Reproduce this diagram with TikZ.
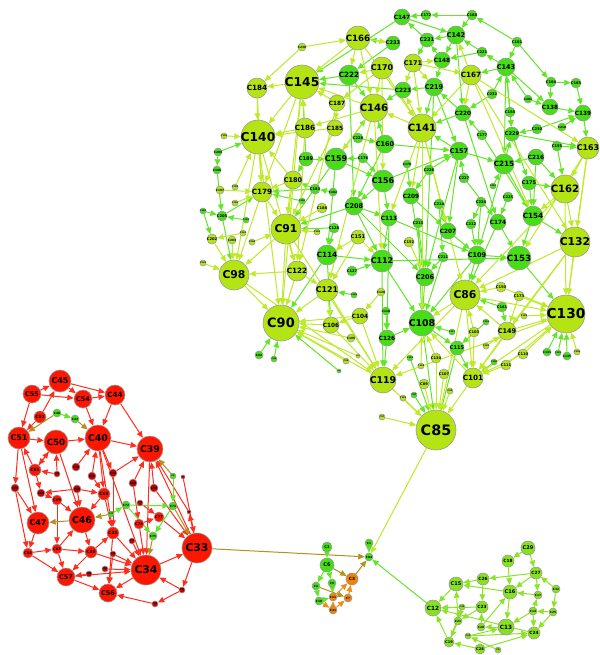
\documentclass[tikz,border=0pt]{standalone}
\usepackage{fontspec}
\setmainfont{DejaVu Sans}
\usetikzlibrary{arrows.meta}
\definecolor{lm}{RGB}{180,228,20}
\definecolor{gn}{RGB}{70,222,20}
\definecolor{rd}{RGB}{255,22,0}
\definecolor{drd}{RGB}{195,0,0}
\definecolor{org}{RGB}{240,130,10}
\definecolor{kg}{RGB}{135,226,30}
\definecolor{elm}{RGB}{190,234,40}
\definecolor{egn}{RGB}{100,230,40}
\definecolor{erd}{RGB}{255,45,30}
\definecolor{eol}{RGB}{180,145,25}
\definecolor{eor}{RGB}{240,140,20}
\definecolor{ekg}{RGB}{140,228,40}
\pgfdeclarelayer{bgw}\pgfdeclarelayer{bg}\pgfsetlayers{bgw,bg,main}
\tikzset{
 nd/.style={circle,draw=black!40,line width=0.3pt,inner sep=0pt},
 L/.style={nd,fill=lm}, G/.style={nd,fill=gn}, R/.style={nd,fill=rd},
 D/.style={nd,fill=drd}, O/.style={nd,fill=org}, K/.style={nd,fill=kg},
 lbl/.style={inner sep=0pt,font=\bfseries,text=black},
 ed/.style={line width=0.5pt,-{Triangle[length=3.2pt,width=2.8pt]}},
 eL/.style={ed,draw=elm}, eG/.style={ed,draw=egn}, eR/.style={ed,draw=erd},
 eO/.style={ed,draw=eol}, eOr/.style={ed,draw=eor}, eK/.style={ed,draw=ekg}
}
\newcommand\fsz[1]{\pgfmathsetmacro\myfs{0.36*#1}\fontsize{\myfs pt}{\myfs pt}\selectfont}
\newcommand\N[5]{\node[#1,minimum size=#4pt] (#2) at (#3) {};\node[lbl] (#2l) at (#2) {\fsz{#4}#5};}
\begin{document}
\begin{tikzpicture}[x=0.5pt,y=-0.5pt]
\begin{pgfonlayer}{bgw}
\fill[white] (0,0) rectangle (600,655);
\end{pgfonlayer}
\useasboundingbox (0,0) rectangle (600,655);
% main cluster
\N{G}{c147}{402,17}{8}{C147}
\N{G}{c172}{426,15}{5}{C172}
\N{G}{c168}{472,15}{5}{C168}
\N{G}{c142}{456,35}{9}{C142}
\N{G}{c231}{427,40}{7}{C231}
\N{G}{c181}{517,42}{5}{C181}
\N{G}{c221}{482,52}{5}{C221}
\N{G}{c148}{442,60}{8}{C148}
\N{G}{c143}{506,67}{9}{C143}
\N{L}{c171}{413,63}{9}{C171}
\N{L}{c167}{471,75}{10}{C167}
\N{G}{c164}{551,82}{5}{C164}
\N{G}{c165}{576,83}{5}{C165}
\N{G}{c223}{403,90}{8}{C223}
\N{G}{c219}{434,87}{9}{C219}
\N{G}{c232}{492,94}{5}{C232}
\N{G}{c201}{528,99}{4}{C201}
\N{G}{c138}{550,107}{8}{C138}
\N{G}{c139}{583,113}{8}{C139}
\N{G}{c158}{510,112}{5}{C158}
\N{G}{c220}{463,113}{8}{C220}
\N{L}{c141}{422,128}{14}{C141}
\N{G}{c177}{482,135}{5}{C177}
\N{G}{c230}{537,129}{5}{C230}
\N{G}{c229}{512,134}{7}{C229}
\N{G}{c218}{562,127}{4}{C218}
\N{G}{c155}{557,146}{5}{C155}
\N{L}{c163}{588,148}{11}{C163}
\N{L}{c166}{358,38}{12}{C166}
\N{G}{c233}{393,43}{7}{C233}
\N{L}{c238}{302,47}{4}{C238}
\N{L}{c170}{382,68}{11}{C170}
\N{G}{c222}{349,75}{10}{C222}
\N{L}{c145}{302,82}{17}{C145}
\N{L}{c184}{257,88}{10}{C184}
\N{L}{c187}{337,103}{8}{C187}
\N{L}{c146}{374,108}{14}{C146}
\N{L}{c186}{305,128}{10}{C186}
\N{L}{c185}{335,128}{8}{C185}
\N{L}{c140}{258,137}{17}{C140}
\N{L}{c195}{224,136}{3}{C195}
\N{G}{c228}{358,138}{5}{C228}
\N{G}{c160}{385,144}{9}{C160}
\N{G}{c200}{218,152}{4}{C200}
\N{G}{c189}{306,159}{7}{C189}
\N{G}{c159}{336,159}{11}{C159}
\N{G}{c176}{363,158}{5}{C176}
\N{G}{c196}{217,170}{4}{C196}
\N{L}{c180}{293,180}{9}{C180}
\N{L}{c179}{262,192}{10}{C179}
\N{L}{c197}{220,190}{4}{C197}
\N{L}{c198}{235,187}{3}{C198}
\N{L}{c199}{235,203}{3}{C199}
\N{G}{c183}{315,189}{5}{C183}
\N{G}{c182}{333,192}{4}{C182}
\N{G}{c156}{383,181}{11}{C156}
\N{G}{c190}{302,201}{3}{C190}
\N{G}{c208}{354,206}{9}{C208}
\N{L}{c188}{322,208}{5}{C188}
\N{G}{c113}{389,218}{8}{C113}
\N{G}{c194}{203,211}{3}{C194}
\N{G}{c205}{222,216}{5}{C205}
\N{G}{c193}{246,220}{3}{C193}
\N{L}{c91}{286,229}{15}{C91}
\N{G}{c128}{334,228}{5}{C128}
\N{L}{c151}{358,237}{7}{C151}
\N{L}{c192}{317,232}{3}{C192}
\N{L}{c202}{212,239}{5}{C202}
\N{L}{c203}{232,240}{4}{C203}
\N{L}{c204}{252,242}{3}{C204}
\N{L}{c191}{243,233}{3}{C191}
\N{L}{c239}{203,263}{3}{C239}
\N{G}{c114}{327,255}{10}{C114}
\N{G}{c112}{382,261}{11}{C112}
\N{L}{c98}{234,275}{15}{C98}
\N{L}{c122}{297,271}{10}{C122}
\N{G}{c127}{352,271}{5}{C127}
\N{L}{c121}{327,290}{11}{C121}
\N{G}{c157}{459,151}{9}{C157}
\N{G}{c216}{536,157}{8}{C216}
\N{G}{c215}{504,164}{10}{C215}
\N{G}{c178}{407,164}{4}{C178}
\N{G}{c226}{429,170}{5}{C226}
\N{G}{c227}{464,178}{5}{C227}
\N{G}{c175}{529,183}{7}{C175}
\N{L}{c162}{565,189}{14}{C162}
\N{G}{c209}{411,196}{8}{C209}
\N{G}{c210}{493,186}{3}{C210}
\N{G}{c225}{508,197}{5}{C225}
\N{G}{c224}{481,202}{5}{C224}
\N{G}{c214}{439,204}{5}{C214}
\N{G}{c154}{533,216}{10}{C154}
\N{G}{c174}{498,222}{8}{C174}
\N{G}{c212}{471,224}{5}{C212}
\N{G}{c213}{418,223}{5}{C213}
\N{G}{c207}{448,231}{8}{C207}
\N{L}{c132}{575,242}{15}{C132}
\N{L}{c152}{409,242}{5}{C152}
\N{G}{c109}{477,255}{9}{C109}
\N{G}{c153}{519,258}{12}{C153}
\N{G}{c211}{443,257}{5}{C211}
\N{G}{c206}{425,277}{9}{C206}
\N{L}{c86}{465,295}{15}{C86}
\N{L}{c150}{501,287}{5}{C150}
\N{L}{c173}{519,296}{5}{C173}
\N{G}{c161}{502,307}{5}{C161}
\N{L}{c130}{566,314}{19}{C130}
\N{G}{c108}{422,323}{13}{C108}
\N{L}{c149}{507,331}{9}{C149}
\N{L}{c103}{474,332}{5}{C103}
\N{L}{c169}{524,316}{3}{C169}
\N{G}{c116}{486,322}{3}{C116}
\N{G}{c117}{452,332}{3}{C117}
\N{G}{c115}{457,348}{7}{C115}
\N{L}{c134}{436,358}{5}{C134}
\N{L}{c110}{523,354}{5}{C110}
\N{L}{c102}{486,346}{3}{C102}
\N{G}{c131}{547,352}{4}{C131}
\N{G}{c133}{558,353}{3}{C133}
\N{G}{c135}{567,356}{4}{C135}
\N{L}{c136}{577,352}{3}{C136}
\N{L}{c101}{473,378}{10}{C101}
\N{L}{c111}{506,365}{5}{C111}
\N{G}{c100}{494,362}{3}{C100}
\N{L}{c107}{444,374}{5}{C107}
\N{L}{c89}{424,384}{5}{C89}
\N{L}{c99}{450,391}{3}{C99}
\N{G}{c123}{410,358}{3}{C123}
\N{L}{c124}{421,366}{3}{C124}
\N{L}{c125}{403,398}{3}{C125}
\N{G}{c87}{414,395}{3}{C87}
\N{L}{c85}{436,430}{20}{C85}
\N{L}{c90}{281,323}{18}{C90}
\N{L}{c104}{360,316}{8}{C104}
\N{L}{c106}{331,325}{8}{C106}
\N{G}{c129}{354,295}{3}{C129}
\N{L}{c120}{381,292}{4}{C120}
\N{G}{c118}{386,311}{4}{C118}
\N{G}{c126}{387,338}{8}{C126}
\N{L}{c105}{351,338}{4}{C105}
\N{G}{c92}{259,355}{4}{C92}
\N{G}{c93}{274,359}{3}{C93}
\N{L}{c94}{346,361}{3}{C94}
\N{L}{c95}{358,356}{2}{C95}
\N{G}{c96}{339,371}{2}{C96}
\N{L}{c119}{383,380}{13}{C119}
\N{L}{c97}{382,417}{3}{C97}
% red cluster
\N{R}{c45}{60,381}{11}{C45}
\N{R}{c55}{32,394}{9}{C55}
\N{R}{c54}{83,399}{9}{C54}
\N{R}{c44}{115,395}{10}{C44}
\N{R}{c52}{40,417}{6}{C52}
\N{G}{c48}{57,413}{4}{C48}
\N{G}{c43}{75,419}{4}{C43}
\N{R}{c51}{19,438}{11}{C51}
\N{R}{c50}{56,442}{12}{C50}
\N{R}{c40}{98,438}{13}{C40}
\N{R}{c39}{150,449}{13}{C39}
\N{R}{c61}{35,470}{6}{C61}
\N{D}{c53}{57,474}{3}{C53}
\N{D}{c58}{76,467}{4}{C58}
\N{D}{c59}{92,476}{4}{C59}
\N{D}{c41}{113,473}{4}{C41}
\N{D}{c66}{15,488}{4}{C66}
\N{D}{c65}{41,493}{4}{C65}
\N{D}{c68}{77,489}{4}{C68}
\N{R}{c62}{104,494}{6}{C62}
\N{D}{c69}{133,483}{4}{C69}
\N{D}{c70}{154,488}{4}{C70}
\N{G}{c5}{173,476}{3}{C5}
\N{D}{c71}{183,477}{2}{C71}
\N{R}{c49}{57,500}{5}{C49}
\N{G}{c72}{126,505}{4}{C72}
\N{G}{c37}{111,514}{3}{C37}
\N{G}{c73}{173,506}{4}{C73}
\N{D}{c74}{140,503}{3}{C74}
\N{R}{c77}{159,517}{5}{C77}
\N{R}{c78}{139,524}{5}{C78}
\N{R}{c47}{38,523}{11}{C47}
\N{R}{c46}{82,520}{13}{C46}
\N{R}{c35}{113,533}{6}{C35}
\N{G}{c75}{153,536}{4}{C75}
\N{D}{c76}{132,541}{3}{C76}
\N{D}{c79}{189,512}{2}{C79}
\N{R}{c64}{28,553}{5}{C64}
\N{R}{c63}{57,549}{5}{C63}
\N{R}{c36}{91,552}{6}{C36}
\N{D}{c38}{113,554}{3}{C38}
\N{R}{c33}{197,548}{15}{C33}
\N{R}{c34}{146,570}{15}{C34}
\N{R}{c57}{66,577}{9}{C57}
\N{D}{c80}{89,574}{3}{C80}
\N{D}{c81}{105,569}{3}{C81}
\N{R}{c56}{108,593}{9}{C56}
\N{D}{c82}{182,590}{3}{C82}
\N{D}{c83}{155,604}{3}{C83}
% small cluster
\N{G}{c2}{327,547}{5}{C2}
\N{G}{c6}{327,565}{7}{C6}
\N{G}{c84}{369,557}{4}{C84}
\N{G}{c1}{369,543}{4}{C1}
\N{O}{c3}{352,579}{6}{C3}
\N{G}{c4}{316,586}{4}{C4}
\N{G}{c9}{332,583}{4}{C9}
\N{G}{c10}{319,601}{4}{C10}
\N{O}{c11}{333,597}{4}{C11}
\N{O}{c7}{348,598}{4}{C7}
\N{O}{c31}{333,610}{4}{C31}
% bottom right cluster
\N{K}{c29}{528,548}{7}{C29}
\N{K}{c18}{508,561}{6}{C18}
\N{K}{c27}{536,573}{6}{C27}
\N{K}{c26}{483,579}{6}{C26}
\N{K}{c15}{456,584}{7}{C15}
\N{K}{c32}{556,589}{4}{C32}
\N{K}{c16}{510,592}{7}{C16}
\N{K}{c17}{538,595}{4}{C17}
\N{K}{c12}{433,608}{8}{C12}
\N{K}{c23}{482,607}{6}{C23}
\N{K}{c30}{462,607}{3}{C30}
\N{K}{c14}{533,611}{4}{C14}
\N{K}{c25}{553,612}{4}{C25}
\N{K}{c21}{458,621}{4}{C21}
\N{K}{c20}{481,627}{4}{C20}
\N{K}{c13}{506,627}{8}{C13}
\N{K}{c24}{534,633}{6}{C24}
\N{K}{c22}{468,636}{3}{C22}
\N{K}{c19}{449,642}{5}{C19}
\N{K}{c28}{480,649}{5}{C28}
\N{K}{c8}{498,650}{3}{C8}
\begin{pgfonlayer}{bg}
\foreach \a/\b in {c147/c142,c172/c147,c168/c172,c168/c142,c142/c231,c231/c147,c181/c168,c181/c143,c221/c142,c221/c148,c148/c231,c148/c219,c143/c221,c143/c167,c143/c138,c164/c165,c165/c139,c164/c138,c181/c164,c223/c145,c223/c146,c219/c223,c219/c141,c232/c220,c232/c143,c201/c138,c201/c143,c138/c139,c139/c163,c158/c143,c158/c229,c220/c141,c220/c219,c177/c220,c177/c154,c230/c229,c230/c139,c229/c163,c218/c139,c155/c163,c155/c162,c233/c222,c233/c166,c222/c145,c222/c146,c228/c160,c160/c146,c160/c157,c200/c140,c200/c196,c189/c159,c189/c145,c159/c146,c159/c156,c176/c159,c196/c205,c183/c180,c183/c179,c182/c183,c156/c157,c156/c208,c190/c179,c208/c113,c208/c91,c113/c112,c113/c109,c194/c205,c205/c179,c193/c205,c128/c91,c128/c114,c114/c112,c114/c90,c112/c153,c112/c108,c127/c112,c157/c141,c157/c215,c216/c215,c216/c162,c215/c154,c215/c229,c178/c209,c226/c157,c227/c157,c227/c174,c175/c154,c175/c162,c209/c207,c209/c206,c210/c215,c225/c174,c224/c212,c214/c211,c154/c153,c154/c132,c174/c153,c212/c109,c213/c206,c207/c109,c109/c153,c109/c108,c211/c206,c206/c108,c161/c149,c161/c86,c108/c85,c108/c115,c116/c115,c117/c108,c115/c101,c131/c130,c133/c130,c135/c130,c100/c101,c123/c85,c87/c85,c129/c121,c118/c126,c126/c119,c126/c108,c92/c90,c93/c90,c96/c90,c143/c215,c219/c157,c220/c174,c222/c208,c229/c175,c157/c207,c159/c114,c156/c113,c208/c112,c147/c145,c231/c171,c142/c148,c224/c109,c214/c207,c213/c108,c226/c209,c189/c180,c176/c156,c205/c98,c194/c202,c174/c86,c153/c130,c109/c86,c115/c85,c211/c108,c157/c206,c215/c109,c216/c154,c143/c229,c142/c220,c219/c206,c208/c206,c112/c119,c113/c126,c114/c106,c159/c91,c160/c208}
  \draw[eG] (\a) -- (\b);
\foreach \a/\b in {c171/c141,c171/c148,c167/c141,c167/c163,c167/c142,c141/c146,c163/c162,c162/c132,c166/c145,c166/c233,c166/c146,c238/c166,c238/c184,c170/c146,c170/c222,c145/c140,c145/c184,c184/c140,c187/c145,c187/c185,c146/c145,c146/c186,c141/c108,c186/c145,c186/c140,c185/c140,c140/c179,c140/c98,c195/c140,c180/c91,c180/c140,c179/c91,c179/c98,c197/c179,c198/c140,c199/c179,c188/c91,c91/c90,c91/c98,c151/c114,c151/c112,c192/c91,c202/c98,c203/c98,c204/c91,c191/c202,c239/c98,c98/c90,c122/c90,c122/c98,c121/c90,c121/c106,c132/c130,c152/c206,c86/c108,c86/c130,c150/c86,c150/c130,c173/c149,c130/c101,c149/c130,c149/c101,c103/c86,c103/c101,c169/c130,c110/c130,c136/c130,c102/c149,c101/c85,c111/c130,c107/c85,c89/c85,c99/c85,c124/c108,c125/c85,c106/c90,c104/c106,c104/c90,c105/c90,c120/c104,c94/c90,c95/c90,c119/c85,c119/c90,c97/c85,c134/c108,c134/c85,c145/c91,c140/c90,c146/c112,c167/c132,c163/c130,c162/c130,c86/c85,c132/c86,c121/c119,c141/c207,c170/c156,c185/c91,c186/c122,c187/c122,c171/c219,c141/c113,c146/c159,c145/c179,c184/c179,c180/c179,c91/c122,c98/c119,c132/c149,c162/c154,c163/c132,c149/c86,c101/c108,c141/c223,c166/c222,c170/c187,c151/c121,c122/c121,c106/c119,c104/c119,c141/c209,c167/c220,c171/c223,c173/c130,c110/c101,c111/c101,c86/c101,c85/c84,c130/c119,c132/c101,c86/c119,c145/c90,c140/c122,c146/c121,c141/c86,c162/c86,c163/c153,c167/c154,c170/c141,c166/c141,c171/c167,c91/c119}
  \draw[eL] (\a) -- (\b);
\foreach \a/\b in {c45/c54,c45/c44,c55/c45,c55/c51,c54/c44,c54/c40,c52/c51,c52/c45,c51/c50,c50/c40,c40/c39,c44/c39,c51/c66,c61/c51,c61/c50,c50/c46,c40/c41,c41/c39,c40/c62,c58/c40,c59/c40,c53/c50,c53/c61,c61/c65,c66/c47,c66/c64,c65/c49,c68/c62,c68/c46,c62/c46,c69/c39,c70/c39,c71/c33,c49/c46,c49/c63,c74/c77,c78/c77,c77/c33,c78/c34,c35/c56,c36/c57,c63/c57,c63/c46,c64/c63,c64/c57,c57/c56,c80/c57,c81/c34,c38/c56,c34/c33,c33/c39,c33/c82,c82/c34,c83/c56,c82/c83,c33/c79,c79/c39,c76/c34,c36/c35,c41/c35,c70/c33,c62/c35,c38/c34,c51/c47,c47/c64,c50/c61,c46/c36,c40/c35,c55/c54,c44/c40,c59/c62,c68/c65,c69/c78,c35/c34,c36/c34,c63/c36,c57/c34,c34/c56,c39/c34,c40/c34}
  \draw[eR] (\a) -- (\b);
\foreach \a/\b in {c48/c51,c43/c40,c5/c39,c46/c47,c37/c46,c75/c34,c73/c33,c33/c84,c3/c84,c6/c3,c4/c7}
  \draw[eO] (\a) -- (\b);
\foreach \a/\b in {c48/c43,c72/c73,c37/c72,c73/c75,c72/c75,c5/c73,c2/c6,c6/c4,c6/c9,c4/c10,c9/c11,c10/c11,c1/c84,c12/c84}
  \draw[eG] (\a) -- (\b);
\foreach \a/\b in {c10/c31,c11/c3,c7/c3,c31/c7,c31/c11}
  \draw[eOr] (\a) -- (\b);
\foreach \a/\b in {c29/c18,c29/c27,c18/c16,c27/c16,c27/c26,c27/c17,c32/c27,c32/c25,c17/c16,c26/c15,c26/c23,c15/c12,c16/c15,c16/c13,c23/c12,c30/c12,c14/c17,c14/c24,c25/c14,c25/c24,c14/c13,c24/c12,c21/c15,c21/c19,c20/c16,c20/c23,c22/c24,c28/c24,c28/c19,c19/c12,c19/c30,c8/c22,c22/c13,c13/c20,c30/c21,c23/c21}
  \draw[eK] (\a) -- (\b);
\end{pgfonlayer}
\end{tikzpicture}
\end{document}
